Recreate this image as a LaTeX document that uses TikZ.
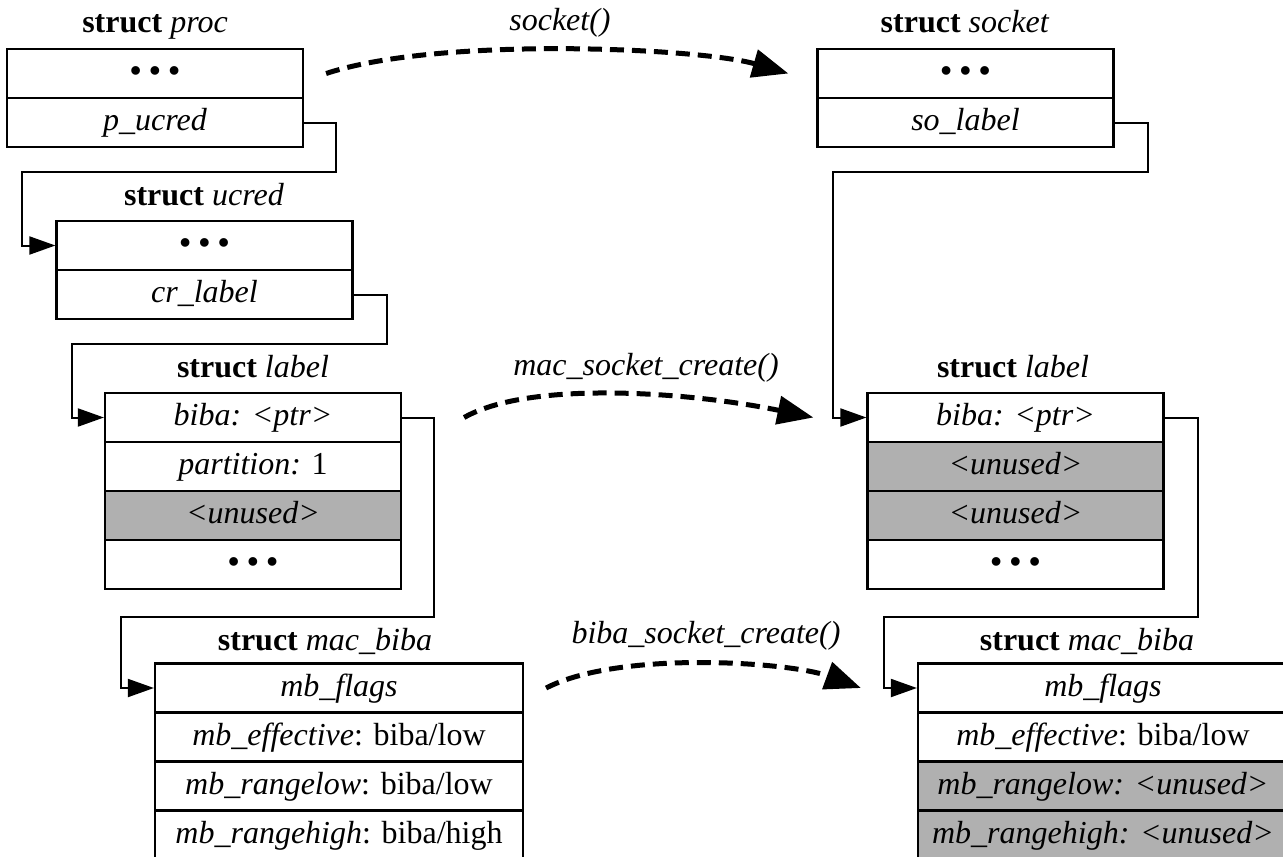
\documentclass[tikz,border=0pt]{standalone}
\usepackage{fontspec}
\setmainfont{Liberation Serif}
\usetikzlibrary{arrows.meta}
\definecolor{unusedgray}{RGB}{176,176,176}
\newcommand{\threedots}{\textbf{\textbullet\hspace{8pt}\textbullet\hspace{8pt}\textbullet}}
\begin{document}
\begin{tikzpicture}[x=1pt,y=-1pt,
  row/.style={draw, line width=2.2pt, minimum width=296pt, minimum height=49pt,
    inner sep=0pt, text height=23pt, text depth=7pt, font=\fontsize{32}{38}\selectfont},
  grayrow/.style={row, fill=unusedgray},
  title/.style={inner sep=0pt, text height=23pt, text depth=7pt, font=\fontsize{32}{38}\selectfont},
  ptr/.style={line width=2pt, -{Triangle[length=26pt,width=18pt]}},
  call/.style={line width=5pt, dash pattern=on 14pt off 8pt, -{Triangle[length=36pt,width=28pt]}}]
\useasboundingbox (0,0) rectangle (1283,857);
\clip (0,0) rectangle (1283,857);
\fill[white] (0,0) rectangle (1283,857);

% struct proc
\node[title] (tproc) at (155,24) {\textbf{struct} \textit{proc}};
\node[row] (P1) at (155,73.5) {\threedots};
\node[row] (P2) at (155,122.5) {\textit{p\_ucred}};

% struct ucred
\node[title] (tucred) at (204,197) {\textbf{struct} \textit{ucred}};
\node[row] (U1) at (204.5,245.5) {\threedots};
\node[row] (U2) at (204.5,294.5) {\textit{cr\_label}};

% struct label (left)
\node[title] (tlabA) at (253,369) {\textbf{struct} \textit{label}};
\node[row] (LA1) at (253,417.5) {\textit{biba: \textless ptr\textgreater}};
\node[row] (LA2) at (253,466.5) {\textit{partition:} 1};
\node[grayrow] (LA3) at (253,515.5) {\textit{\textless unused\textgreater}};
\node[row] (LA4) at (253,564.5) {\threedots};

% struct mac_biba (left)
\node[title] (tmacA) at (325,642) {\textbf{struct} \textit{mac\_biba}};
\node[row, minimum width=368pt] (MA1) at (339,688) {\textit{mb\_flags}};
\node[row, minimum width=368pt] (MA2) at (339,737) {\textit{mb\_effective}: biba/low};
\node[row, minimum width=368pt] (MA3) at (339,786) {\textit{mb\_rangelow}: biba/low};
\node[row, minimum width=368pt] (MA4) at (339,835) {\textit{mb\_rangehigh}: biba/high};

% struct socket
\node[title] (tsock) at (965,24) {\textbf{struct} \textit{socket}};
\node[row] (K1) at (965.5,73.5) {\threedots};
\node[row] (K2) at (965.5,122.5) {\textit{so\_label}};

% struct label (right)
\node[title] (tlabB) at (1013,369) {\textbf{struct} \textit{label}};
\node[row] (LB1) at (1015.5,417.5) {\textit{biba: \textless ptr\textgreater}};
\node[grayrow] (LB2) at (1015.5,466.5) {\textit{\textless unused\textgreater}};
\node[grayrow] (LB3) at (1015.5,515.5) {\textit{\textless unused\textgreater}};
\node[row] (LB4) at (1015.5,564.5) {\threedots};

% struct mac_biba (right)
\node[title] (tmacB) at (1087,642) {\textbf{struct} \textit{mac\_biba}};
\node[row, minimum width=370pt] (MB1) at (1103,688) {\textit{mb\_flags}};
\node[row, minimum width=370pt] (MB2) at (1103,737) {\textit{mb\_effective}: biba/low};
\node[grayrow, minimum width=370pt] (MB3) at (1103,786) {\textit{mb\_rangelow: \textless unused\textgreater}};
\node[grayrow, minimum width=370pt] (MB4) at (1103,835) {\textit{mb\_rangehigh: \textless unused\textgreater}};

% pointers
\draw[ptr] (P2.east) -- ++(32,0) -- ++(0,49) -| ([xshift=-33pt]U1.west) -- (U1.west);
\draw[ptr] (U2.east) -- ++(33,0) -- ++(0,49) -| ([xshift=-32pt]LA1.west) -- (LA1.west);
\draw[ptr] (LA1.east) -- ++(32,0) -- ++(0,199.5) -| ([xshift=-33pt]MA1.west) -- (MA1.west);
\draw[ptr] (K2.east) -- ++(33,0) -- ++(0,49) -| ([xshift=-33pt]LB1.west) -- (LB1.west);
\draw[ptr] (LB1.east) -- ++(33,0) -- ++(0,199.5) -| ([xshift=-33pt]MB1.west) -- (MB1.west);

% calls
\coordinate (c1s) at ([xshift=22pt]P1.east);
\coordinate (c1e) at ([xshift=-28pt]K1.west);
\draw[call] (c1s) .. controls (440,36) and (700,48) .. (c1e);
\node[title, font=\fontsize{32}{38}\selectfont\itshape] (l1) at (560,22) {socket()};

\coordinate (c2s) at ([xshift=62pt]LA1.east);
\coordinate (c2e) at ([xshift=-53pt]LB1.west);
\draw[call] (c2s) .. controls (530,380) and (690,392) .. (c2e);
\node[title, font=\fontsize{32}{38}\selectfont\itshape] (l2) at (646,367) {mac\_socket\_create()};

\coordinate (c3s) at ([xshift=22pt]MA1.east);
\coordinate (c3e) at ([xshift=-56pt]MB1.west);
\draw[call] (c3s) .. controls (620,650) and (790,662) .. (c3e);
\node[title, font=\fontsize{32}{38}\selectfont\itshape] (l3) at (706,635) {biba\_socket\_create()};
\end{tikzpicture}
\end{document}
